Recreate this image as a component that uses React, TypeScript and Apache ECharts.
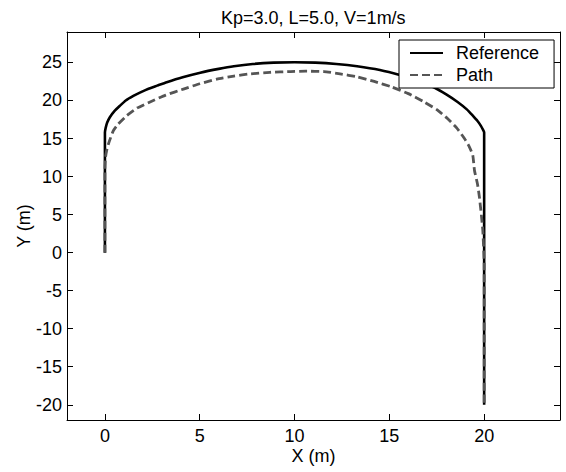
import React, { useEffect, useRef } from "react";
import * as echarts from "echarts";

const TITLE = "Kp=3.0, L=5.0, V=1m/s";
const X_TICKS = [0, 5, 10, 15, 20];
const Y_TICKS = [-20, -15, -10, -5, 0, 5, 10, 15, 20, 25];

const refX = [0, 0, 0.04, 0.12, 0.26, 0.5, 0.79, 1.1, 1.5, 1.9, 2.3, 2.75, 3.26, 4.1, 5.03, 6, 6.8, 7.8, 8.9, 10, 11.1, 12.2, 13.3, 14.5, 15.6, 16.5, 17.37, 18, 18.6, 19.1, 19.4, 19.65, 19.82, 19.95, 20, 20];
const refY = [0, 15.8, 16.4, 17.1, 17.8, 18.6, 19.3, 20.0, 20.6, 21.1, 21.55, 21.95, 22.4, 23.05, 23.65, 24.15, 24.5, 24.8, 24.97, 25.02, 24.97, 24.8, 24.5, 24.0, 23.3, 22.6, 21.7, 20.8, 19.8, 18.8, 18.0, 17.3, 16.7, 16.1, 15.8, -20];

const pathX = [0, 0, 0.03, 0.09, 0.2, 0.44, 0.7, 1.15, 1.7, 2.38, 3.2, 4.14, 5.0, 5.9, 6.8, 7.67, 8.7, 9.79, 10.6, 11.55, 12.4, 13.3, 14.2, 15.1, 16.0, 16.84, 17.5, 18.08, 18.55, 18.96, 19.2, 19.4, 19.49, 19.65, 19.75, 19.85, 19.93, 20, 20];
const pathY = [0, 11, 12.5, 13.4, 14.4, 16, 16.9, 18.0, 19.0, 19.8, 20.7, 21.5, 22.2, 22.8, 23.2, 23.5, 23.7, 23.8, 23.85, 23.8, 23.5, 23.1, 22.5, 21.8, 20.9, 19.8, 18.8, 17.6, 16.4, 15, 14, 12.8, 10.8, 9, 7.3, 5, 2.9, -1.5, -20];

const FONT = "'Liberation Sans', Arial, sans-serif";

export default function App() {
  const ref = useRef<HTMLDivElement>(null);
  useEffect(() => {
    document.body.style.margin = "0";
    const chart = echarts.init(ref.current!, null, { renderer: "svg" });
    const refData = refX.map((x, i) => [x, refY[i]]);
    const pathData = pathX.map((x, i) => [x, pathY[i]]);
    const axisCommon = {
      axisLine: { show: true, onZero: false, lineStyle: { color: "#000", width: 1 } },
      splitLine: { show: false },
    };
    chart.setOption({
      animation: false,
      backgroundColor: "#fff",
      textStyle: { fontFamily: FONT },
      title: {
        text: TITLE,
        left: 221,
        top: 9,
        padding: 0,
        textStyle: { fontFamily: FONT, fontSize: 18, fontWeight: "normal", color: "#000" },
      },
      legend: {
        orient: "vertical",
        left: 399,
        top: 40,
        padding: [4, 15, 4, 10],
        itemGap: 4,
        itemWidth: 33,
        itemHeight: 14,
        borderColor: "#000",
        borderWidth: 1,
        backgroundColor: "#fff",
        itemStyle: { color: "transparent", borderWidth: 0, opacity: 0 },
        textStyle: { fontFamily: FONT, fontSize: 18, color: "#000", padding: [0, 0, 0, 8] },
        data: ["Reference", "Path"],
      },
      grid: { left: 67, right: 6, top: 32, bottom: 52, show: false },
      xAxis: [
        {
          type: "value",
          min: -2,
          max: 24,
          position: "bottom",
          ...axisCommon,
          name: "X (m)",
          nameLocation: "middle",
          nameGap: 27,
          nameMoveOverlap: false,
          nameTextStyle: { fontFamily: FONT, fontSize: 18, color: "#000" },
          axisTick: { show: true, inside: true, length: 6, customValues: X_TICKS, lineStyle: { color: "#000" } },
          axisLabel: { show: true, margin: 7, customValues: X_TICKS, fontFamily: FONT, fontSize: 18, color: "#000" },
        },
        {
          type: "value",
          min: -2,
          max: 24,
          position: "top",
          ...axisCommon,
          axisTick: { show: true, inside: true, length: 6, customValues: X_TICKS, lineStyle: { color: "#000" } },
          axisLabel: { show: false },
        },
      ],
      yAxis: [
        {
          type: "value",
          min: -22,
          max: 29,
          position: "left",
          ...axisCommon,
          name: "Y (m)",
          nameLocation: "middle",
          nameGap: 34,
          nameMoveOverlap: false,
          nameTextStyle: { fontFamily: FONT, fontSize: 18, color: "#000" },
          axisTick: { show: true, inside: true, length: 6, customValues: Y_TICKS, lineStyle: { color: "#000" } },
          axisLabel: { show: true, margin: 5, customValues: Y_TICKS, fontFamily: FONT, fontSize: 18, color: "#000" },
        },
        {
          type: "value",
          min: -22,
          max: 29,
          position: "right",
          ...axisCommon,
          axisTick: { show: true, inside: true, length: 6, customValues: Y_TICKS, lineStyle: { color: "#000" } },
          axisLabel: { show: false },
        },
      ],
      series: [
        {
          name: "Reference",
          type: "line",
          xAxisIndex: 0,
          yAxisIndex: 0,
          data: refData,
          symbol: "none",
          smooth: 0.15,
          lineStyle: { color: "#000", width: 2.6, type: "solid" },
          itemStyle: { color: "#000" },
        },
        {
          name: "Path",
          type: "line",
          xAxisIndex: 0,
          yAxisIndex: 0,
          data: pathData,
          symbol: "none",
          smooth: 0.15,
          lineStyle: { color: "#555", width: 2.8, type: [8, 4] },
          itemStyle: { color: "#555" },
        },
      ],
    });
    return () => chart.dispose();
  }, []);
  return <div ref={ref} style={{ width: 566, height: 472 }} />;
}
